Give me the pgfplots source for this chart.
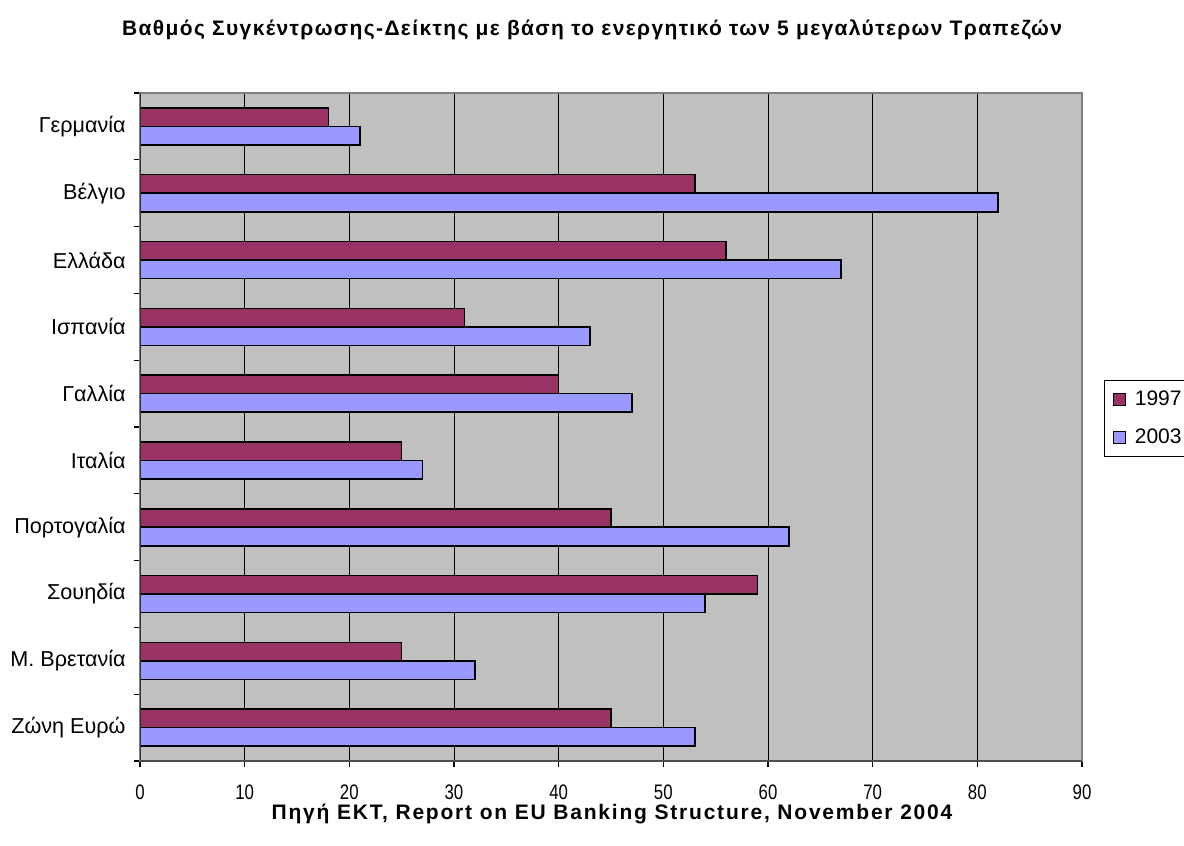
\documentclass[border=0pt]{standalone}
\usepackage{fontspec}
\setmainfont{Liberation Sans}
\newfontfamily\condfont[FakeStretch=0.8]{Liberation Sans}
\newfontfamily\titlefont[LetterSpace=6.5]{Liberation Sans}
\newfontfamily\srcfont[LetterSpace=8.5]{Liberation Sans}
\usepackage{pgfplots}
\pgfplotsset{compat=1.18}
\definecolor{cA}{HTML}{993366}
\definecolor{cB}{HTML}{9999FF}
\definecolor{bgc}{HTML}{C0C0C0}
\begin{document}
\begin{tikzpicture}
\path[use as bounding box] (0,0) rectangle (592pt,423pt);
\begin{axis}[
  at={(70pt,42.5pt)}, anchor=south west,
  width=471pt, height=334pt, scale only axis,
  xbar, bar width=9.25pt,
  xmin=0, xmax=90, xtick={0,10,...,90},
  ymin=-0.5, ymax=9.5, y dir=reverse,
  ytick={0,...,9},
  yticklabels={Γερμανία, Βέλγιο, Ελλάδα, Ισπανία, Γαλλία, Ιταλία, Πορτογαλία, Σουηδία, Μ. Βρετανία, Ζώνη Ευρώ},
  minor ytick={-0.5,0.5,...,9.5},
  every major y tick/.append style={draw=none},
  tick align=outside, tick pos=left,
  major tick length=3pt, minor tick length=3pt,
  every tick/.style={black, line width=0.6pt},
  xmajorgrids, major grid style={black, line width=0.5pt},
  axis background/.style={fill=bgc},
  axis line style={draw=gray, line width=0.8pt},
  /pgf/number format/assume math mode=true,
  xticklabel style={font=\condfont\fontsize{10.5pt}{12pt}\selectfont, inner sep=0pt, anchor=north, yshift=-8.5pt},
  yticklabel style={font=\fontsize{10.8pt}{12pt}\selectfont, inner sep=0pt, anchor=east, xshift=-4pt},
  legend style={at={(1.0234,0.5704)}, anchor=north west, draw=black, line width=0.6pt,
    inner xsep=4pt, inner ysep=5pt, font=\fontsize{10.5pt}{12pt}\selectfont,
    nodes={inner sep=0pt, text height=7.5pt, text depth=1.5pt},
    /tikz/row sep=10pt, /tikz/column sep=4.5pt},
  legend cell align=left,
]
\addplot[fill=cA, draw=black, line width=0.8pt, bar shift=4.625pt,
  legend image code/.code={\draw[fill=cA, draw=black, line width=0.6pt] (0pt,-3pt) rectangle (6pt,3pt);}]
  coordinates {(18,0) (53,1) (56,2) (31,3) (40,4) (25,5) (45,6) (59,7) (25,8) (45,9)};
\addplot[fill=cB, draw=black, line width=0.8pt, bar shift=-4.625pt,
  legend image code/.code={\draw[fill=cB, draw=black, line width=0.6pt] (0pt,-3pt) rectangle (6pt,3pt);}]
  coordinates {(21,0) (82,1) (67,2) (43,3) (47,4) (27,5) (62,6) (54,7) (32,8) (53,9)};
\legend{\makebox[30pt][l]{1997}, \makebox[30pt][l]{2003}}
\draw[black!80, line width=0.8pt] (rel axis cs:0,0) -- (rel axis cs:0,1);
\draw[black!70, line width=0.8pt] (rel axis cs:0,0) -- (rel axis cs:1,0);
\end{axis}
\node[font=\titlefont\bfseries\fontsize{10.5pt}{12pt}\selectfont] at (296pt,408pt) {Βαθμός Συγκέντρωσης-Δείκτης με βάση το ενεργητικό των 5 μεγαλύτερων Τραπεζών};
\node[font=\srcfont\bfseries\fontsize{10.5pt}{12pt}\selectfont] at (306pt,16pt) {Πηγή ΕΚΤ, Report on EU Banking Structure, November 2004};
\end{tikzpicture}
\end{document}
